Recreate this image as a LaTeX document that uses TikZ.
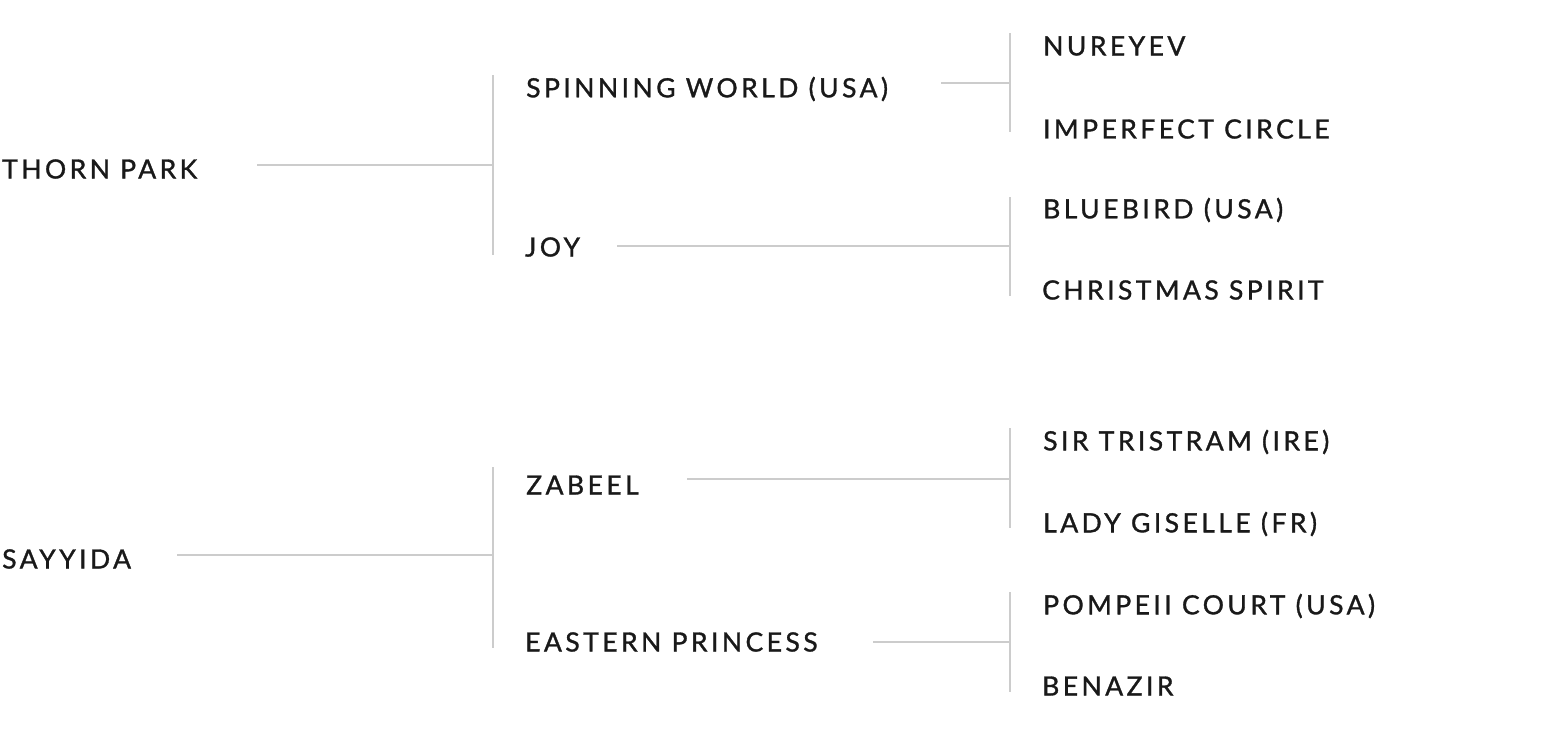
\documentclass[tikz,border=0pt]{standalone}
\usepackage{fontspec}
\setmainfont{Lato}[LetterSpace=13,FakeBold=1.2]
\begin{document}
\begin{tikzpicture}[x=1pt,y=-1pt,
  nm/.style={anchor=west,inner sep=0pt,font=\fontsize{26.5}{26.5}\selectfont,text=black!90},
  ln/.style={draw=black!20,line width=1.6pt}]
\useasboundingbox (0,0) rectangle (1562,750);
\node[nm] (a) at (2,169) {THORN PARK};
\node[nm] (b) at (2,559) {SAYYIDA};
\node[nm] (a1) at (526,89) {SPINNING WORLD (USA)};
\node[nm] (a2) at (525,247) {JOY};
\node[nm] (b1) at (526,485) {ZABEEL};
\node[nm] (b2) at (525,642) {EASTERN PRINCESS};
\node[nm] (c1) at (1043,46) {NUREYEV};
\node[nm] (c2) at (1043,129) {IMPERFECT CIRCLE};
\node[nm] (c3) at (1043,210) {BLUEBIRD (USA)};
\node[nm] (c4) at (1042,290) {CHRISTMAS SPIRIT};
\node[nm] (c5) at (1043,442) {SIR TRISTRAM (IRE)};
\node[nm] (c6) at (1043,524) {LADY GISELLE (FR)};
\node[nm] (c7) at (1043,606) {POMPEII COURT (USA)};
\node[nm] (c8) at (1042,686) {BENAZIR};
% forks
\coordinate (fa) at (493,165); \coordinate (fb) at (493,555);
\coordinate (fa1) at (1010,83); \coordinate (fa2) at (1010,246);
\coordinate (fb1) at (1010,479); \coordinate (fb2) at (1010,642);
\draw[ln] (257,165) -- (fa); \draw[ln] (493,75) -- (493,255);
\draw[ln] (177,555) -- (fb); \draw[ln] (493,467) -- (493,648);
\draw[ln] (941,83) -- (fa1); \draw[ln] (1010,33) -- (1010,132);
\draw[ln] (617,246) -- (fa2); \draw[ln] (1010,197) -- (1010,296);
\draw[ln] (687,479) -- (fb1); \draw[ln] (1010,428) -- (1010,528);
\draw[ln] (873,642) -- (fb2); \draw[ln] (1010,592) -- (1010,692);
\end{tikzpicture}
\end{document}
